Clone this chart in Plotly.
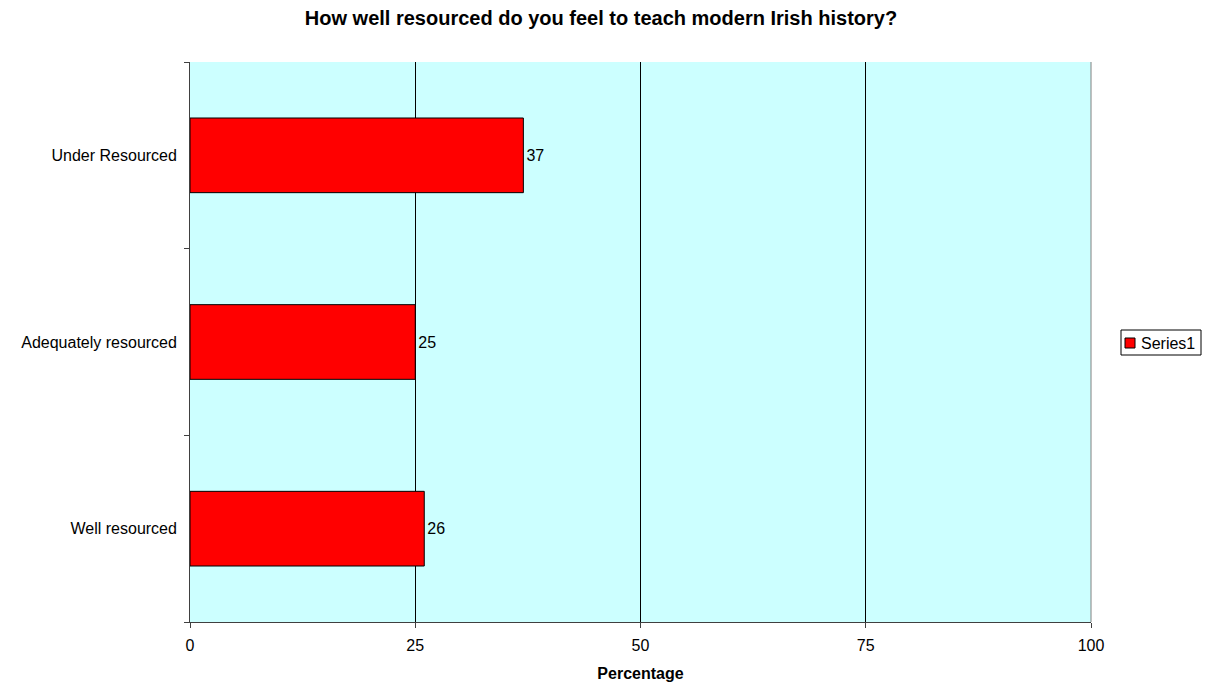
import plotly.graph_objects as go

categories = ["Well resourced", "Adequately resourced", "Under Resourced"]
values = [26, 25, 37]
x_ticks = [0, 25, 50, 75, 100]
series_name = "Series1"

W, H = 1210, 682
L, R, T, B = 190, 119, 62, 60
pw, ph = W - L - R, H - T - B

def px_x(x):
    return (x - L) / pw

def px_y(y):
    return (H - B - y) / ph

FONT = "Liberation Sans, Arial, sans-serif"

fig = go.Figure()
fig.add_trace(go.Bar(
    y=categories, x=values, orientation="h", name=series_name,
    marker=dict(color="#FF0000", line=dict(color="#000000", width=1)),
    width=0.4,
    text=[str(v) for v in values], textposition="outside",
    textfont=dict(family=FONT, size=16, color="#000"),
    cliponaxis=False, showlegend=False,
))

fig.update_layout(
    width=W, height=H,
    margin=dict(l=L, r=R, t=T, b=B, autoexpand=False),
    paper_bgcolor="white", plot_bgcolor="#CCFFFF",
    font=dict(family=FONT, size=16, color="#000"),
    title=dict(text="<b>How well resourced do you feel to teach modern Irish history?</b>",
               x=601 / W, xref="container", xanchor="center",
               y=1 - 18 / H, yref="container", yanchor="middle",
               font=dict(size=20)),
    xaxis=dict(range=[0, 100], tickvals=x_ticks, ticks="outside", ticklen=5,
               tickcolor="#404040", showgrid=True, gridcolor="#000000", gridwidth=1,
               showline=True, linecolor="#404040", mirror=False, zeroline=False,
               tickfont=dict(size=16), ticklabelstandoff=4,
               title=dict(text="<b>Percentage</b>", standoff=14, font=dict(size=16))),
    yaxis=dict(type="category", categoryorder="array", categoryarray=categories,
               ticks="outside", tickson="boundaries", ticklen=5, tickcolor="#404040",
               showline=True, linecolor="#404040", showgrid=False,
               tickfont=dict(size=16), ticksuffix="  "),
    showlegend=False,
)
# right border of plot area
fig.add_shape(type="line", xref="paper", yref="paper", x0=1, x1=1, y0=0, y1=1,
              line=dict(color="#808080", width=1))
# legend box (drawn manually to match layout)
fig.add_shape(type="rect", xref="paper", yref="paper",
              x0=px_x(1121), x1=px_x(1201), y0=px_y(355), y1=px_y(330),
              line=dict(color="#000", width=1), fillcolor="white")
fig.add_shape(type="rect", xref="paper", yref="paper",
              x0=px_x(1125), x1=px_x(1135), y0=px_y(348), y1=px_y(338),
              line=dict(color="#000", width=1), fillcolor="#FF0000")
fig.add_annotation(text=series_name, xref="paper", yref="paper",
                   x=px_x(1139), y=px_y(343), xanchor="left", yanchor="middle",
                   showarrow=False, font=dict(size=16, family=FONT, color="#000"))

fig.write_html("out.html", config={"displayModeBar": False},
               post_script="document.body.style.margin='0';")
